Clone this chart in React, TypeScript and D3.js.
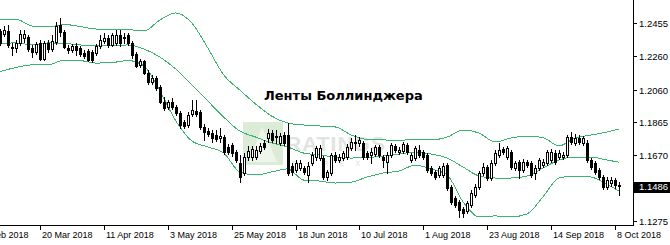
import React, { useEffect, useRef } from 'react';
import * as d3 from 'd3';

const W = 670;
const H = 245;
const PLOT_RIGHT = 633;
const PLOT_BOTTOM = 225;

const title = 'Ленты Боллинджера';

const dateLabels = ['26 Feb 2018', '20 Mar 2018', '11 Apr 2018', '3 May 2018', '25 May 2018', '18 Jun 2018', '10 Jul 2018', '1 Aug 2018', '23 Aug 2018', '14 Sep 2018', '8 Oct 2018'];
const dateTickIndex = [-6, 10, 26, 42, 58, 74, 90, 106, 122, 138, 154];

const priceTicks = [1.2455, 1.226, 1.206, 1.1865, 1.167, 1.1475, 1.1275];
const priceTickLabels = ['1.2455', '1.2260', '1.2060', '1.1865', '1.1670', '', '1.1275'];
const lastPrice = 1.1486;
const lastPriceLabel = '1.1486';

// [open, high, low, close] per daily bar
const ohlc: [number, number, number, number][] = [
  [1.2409, 1.2421, 1.2326, 1.2338], [1.2391, 1.2439, 1.2379, 1.2415], [1.2409, 1.2445, 1.2314, 1.2326], [1.2308, 1.2338, 1.2266, 1.2314], [1.2308, 1.2356, 1.2284, 1.2338],
  [1.2338, 1.2415, 1.2326, 1.2391], [1.2367, 1.2415, 1.2344, 1.2391], [1.2373, 1.2385, 1.229, 1.2302], [1.2308, 1.2326, 1.2254, 1.2284], [1.2284, 1.2344, 1.2272, 1.2332],
  [1.2338, 1.2356, 1.2236, 1.2242], [1.2242, 1.235, 1.2236, 1.2338], [1.2338, 1.2356, 1.2284, 1.2302], [1.2302, 1.2385, 1.229, 1.235], [1.2344, 1.2463, 1.2332, 1.2439],
  [1.2445, 1.2487, 1.2379, 1.2403], [1.2403, 1.2415, 1.2308, 1.2314], [1.2308, 1.2326, 1.2278, 1.2296], [1.2296, 1.2332, 1.2284, 1.232], [1.232, 1.2338, 1.2266, 1.2296],
  [1.2308, 1.232, 1.226, 1.2272], [1.2278, 1.2296, 1.2248, 1.226], [1.229, 1.2302, 1.223, 1.2236], [1.2284, 1.2296, 1.2224, 1.2236], [1.2278, 1.2332, 1.2266, 1.232],
  [1.232, 1.2385, 1.2308, 1.2356], [1.235, 1.2397, 1.2338, 1.2367], [1.2367, 1.2385, 1.2314, 1.2326], [1.2326, 1.2397, 1.232, 1.2385], [1.2338, 1.2415, 1.2326, 1.2385],
  [1.2385, 1.2415, 1.232, 1.2338], [1.2373, 1.2397, 1.2338, 1.2367], [1.2385, 1.2397, 1.2326, 1.2338], [1.2338, 1.235, 1.2248, 1.2266], [1.2272, 1.2284, 1.2194, 1.22],
  [1.2206, 1.2242, 1.2194, 1.223], [1.223, 1.2236, 1.2153, 1.2159], [1.2159, 1.2177, 1.2093, 1.2105], [1.2105, 1.2147, 1.2093, 1.2129], [1.2129, 1.2141, 1.2058, 1.2069],
  [1.2075, 1.2087, 1.198, 1.1986], [1.1986, 1.2016, 1.1938, 1.195], [1.1956, 1.1998, 1.1944, 1.1986], [1.1986, 1.201, 1.1944, 1.1956], [1.1956, 1.1968, 1.1908, 1.192],
  [1.192, 1.1932, 1.1831, 1.1849], [1.1867, 1.1879, 1.1831, 1.1843], [1.1849, 1.1926, 1.1837, 1.1908], [1.1914, 1.1998, 1.1902, 1.1938], [1.1932, 1.1998, 1.1902, 1.1914],
  [1.1926, 1.1938, 1.1825, 1.1837], [1.1837, 1.1855, 1.176, 1.1807], [1.1813, 1.1831, 1.1783, 1.1795], [1.1801, 1.1819, 1.1748, 1.1771], [1.1789, 1.1819, 1.1754, 1.1765],
  [1.1771, 1.1831, 1.1748, 1.1783], [1.1777, 1.1789, 1.1676, 1.1688], [1.1718, 1.1736, 1.1676, 1.1688], [1.173, 1.1742, 1.1664, 1.1682], [1.1688, 1.17, 1.1628, 1.164],
  [1.1622, 1.167, 1.1509, 1.1539], [1.1563, 1.1682, 1.1551, 1.1658], [1.1658, 1.1724, 1.164, 1.1694], [1.1658, 1.1724, 1.164, 1.1706], [1.1658, 1.1724, 1.1646, 1.17],
  [1.1694, 1.1742, 1.1682, 1.1724], [1.1742, 1.176, 1.1706, 1.1718], [1.1771, 1.1825, 1.1748, 1.1801], [1.1801, 1.1819, 1.1748, 1.176], [1.1783, 1.1819, 1.1742, 1.1777],
  [1.1742, 1.1801, 1.173, 1.1783], [1.1789, 1.1807, 1.173, 1.1742], [1.1789, 1.1861, 1.1551, 1.1563], [1.1604, 1.1622, 1.1551, 1.1569], [1.1581, 1.164, 1.1569, 1.1622],
  [1.1592, 1.164, 1.1581, 1.1622], [1.1592, 1.1604, 1.1557, 1.1569], [1.1551, 1.1628, 1.1509, 1.1604], [1.1622, 1.1688, 1.161, 1.167], [1.1658, 1.1724, 1.164, 1.1712],
  [1.1652, 1.173, 1.164, 1.1712], [1.1652, 1.1664, 1.1527, 1.1539], [1.1539, 1.1581, 1.1521, 1.1569], [1.1563, 1.1682, 1.1551, 1.167], [1.167, 1.1688, 1.1628, 1.164],
  [1.164, 1.1676, 1.1628, 1.1658], [1.1652, 1.1694, 1.164, 1.1682], [1.1658, 1.1736, 1.1646, 1.1718], [1.1712, 1.1771, 1.17, 1.1748], [1.1748, 1.1789, 1.17, 1.1742],
  [1.1742, 1.1777, 1.1724, 1.176], [1.1742, 1.1754, 1.1646, 1.1658], [1.1682, 1.1694, 1.1646, 1.1658], [1.167, 1.1712, 1.1622, 1.1688], [1.1676, 1.173, 1.1664, 1.1718],
  [1.1718, 1.173, 1.1658, 1.167], [1.1658, 1.167, 1.1598, 1.164], [1.1628, 1.1688, 1.1563, 1.167], [1.167, 1.1742, 1.1658, 1.173], [1.1724, 1.1736, 1.1688, 1.17],
  [1.1688, 1.1718, 1.1676, 1.17], [1.1694, 1.1748, 1.1682, 1.1736], [1.173, 1.1742, 1.1676, 1.1688], [1.164, 1.1682, 1.1628, 1.167], [1.1652, 1.1724, 1.164, 1.1712],
  [1.17, 1.173, 1.1658, 1.167], [1.1688, 1.17, 1.1646, 1.1658], [1.167, 1.1682, 1.1569, 1.1581], [1.1592, 1.1604, 1.1551, 1.1563], [1.1569, 1.1581, 1.1527, 1.1539],
  [1.1551, 1.1604, 1.1539, 1.1592], [1.1551, 1.1622, 1.1539, 1.1604], [1.161, 1.1622, 1.1462, 1.1473], [1.1479, 1.1491, 1.1378, 1.139], [1.1414, 1.1426, 1.136, 1.1372],
  [1.139, 1.1402, 1.13, 1.1342], [1.1348, 1.136, 1.13, 1.1324], [1.1336, 1.1396, 1.1324, 1.1384], [1.1372, 1.1462, 1.136, 1.1444], [1.1432, 1.1497, 1.142, 1.1479],
  [1.1479, 1.1575, 1.1467, 1.1563], [1.1563, 1.1622, 1.1551, 1.1598], [1.1598, 1.161, 1.1521, 1.1533], [1.1533, 1.164, 1.1521, 1.1622], [1.1622, 1.17, 1.161, 1.1682],
  [1.167, 1.1742, 1.1658, 1.17], [1.1706, 1.1718, 1.1676, 1.1688], [1.1658, 1.1724, 1.1646, 1.1712], [1.1688, 1.17, 1.1586, 1.1598], [1.1592, 1.1634, 1.1581, 1.1622],
  [1.1628, 1.164, 1.1533, 1.1581], [1.1581, 1.1646, 1.1569, 1.1628], [1.1628, 1.164, 1.1598, 1.161], [1.1622, 1.1634, 1.1539, 1.1551], [1.1563, 1.161, 1.1527, 1.1592],
  [1.1592, 1.1652, 1.1581, 1.164], [1.161, 1.1646, 1.1598, 1.1628], [1.1622, 1.17, 1.161, 1.1688], [1.164, 1.1706, 1.1628, 1.1688], [1.1682, 1.17, 1.1616, 1.1628],
  [1.1658, 1.17, 1.1646, 1.1682], [1.1658, 1.1688, 1.1646, 1.167], [1.167, 1.1789, 1.1658, 1.1777], [1.1777, 1.1807, 1.1736, 1.1748], [1.1742, 1.1795, 1.173, 1.1771],
  [1.1771, 1.1789, 1.1736, 1.1748], [1.1742, 1.1783, 1.173, 1.1771], [1.1742, 1.176, 1.1628, 1.164], [1.164, 1.1652, 1.1586, 1.1598], [1.1622, 1.1634, 1.1557, 1.1569],
  [1.1581, 1.1592, 1.1527, 1.1539], [1.1539, 1.1551, 1.1467, 1.1479], [1.1479, 1.1539, 1.1467, 1.1521], [1.1503, 1.1539, 1.1485, 1.1521], [1.1521, 1.1533, 1.1473, 1.1491],
  [1.1491, 1.1509, 1.1432, 1.1486],
];

// Bollinger band values read at these bar indices
const bandIndex = [0, 4, 8, 12, 16, 20, 24, 28, 32, 36, 40, 44, 48, 52, 56, 60, 64, 68, 72, 76, 80, 84, 88, 92, 96, 100, 104, 108, 112, 116, 120, 124, 128, 132, 136, 140, 144, 148, 152, 155];
const upperBand = [1.2478, 1.2478, 1.2439, 1.2433, 1.2448, 1.2436, 1.2421, 1.2421, 1.2418, 1.2409, 1.2475, 1.2517, 1.2457, 1.2308, 1.2147, 1.2058, 1.1974, 1.1902, 1.1861, 1.1849, 1.1843, 1.1837, 1.1789, 1.1763, 1.176, 1.1757, 1.1765, 1.176, 1.1777, 1.1819, 1.1801, 1.1748, 1.1771, 1.1783, 1.1774, 1.1724, 1.1771, 1.1789, 1.1807, 1.1825];
const middleBand = [1.2335, 1.2338, 1.2326, 1.2338, 1.2335, 1.2326, 1.232, 1.232, 1.2326, 1.2302, 1.2254, 1.2182, 1.2087, 1.1992, 1.1896, 1.1813, 1.1777, 1.1742, 1.1718, 1.1682, 1.167, 1.1658, 1.1652, 1.1655, 1.1664, 1.1676, 1.1688, 1.1676, 1.1652, 1.1598, 1.1545, 1.1533, 1.1533, 1.1545, 1.1592, 1.164, 1.1658, 1.1658, 1.164, 1.1628];
const lowerBand = [1.2168, 1.2192, 1.2207, 1.2207, 1.2236, 1.2233, 1.2218, 1.2221, 1.2233, 1.2201, 1.2052, 1.1873, 1.1754, 1.1718, 1.1682, 1.1569, 1.1551, 1.1569, 1.1587, 1.1521, 1.1515, 1.1503, 1.1509, 1.1539, 1.1563, 1.1575, 1.161, 1.1587, 1.1551, 1.139, 1.1301, 1.1307, 1.1301, 1.1319, 1.142, 1.1533, 1.1545, 1.1539, 1.1497, 1.1456];

const BAND_COLOR = '#3cb371';
const AXIS_FONT = "'Liberation Sans', Arial, sans-serif";

export default function App() {
  const ref = useRef<SVGSVGElement>(null);

  useEffect(() => {
    const svg = d3.select(ref.current);
    svg.selectAll('*').remove();

    const x = d3.scaleLinear().domain([0, ohlc.length - 1]).range([0.3, 0.3 + 3.99 * (ohlc.length - 1)]);
    const y = d3.scaleLinear().domain([1.1275, 1.2455]).range([221.3, 23.3]);

    svg.append('rect').attr('width', W).attr('height', H).attr('fill', '#ffffff');

    const defs = svg.append('defs');
    defs.append('clipPath').attr('id', 'plotClip')
      .append('rect').attr('x', 0).attr('y', 0).attr('width', PLOT_RIGHT).attr('height', PLOT_BOTTOM);

    // watermark
    const wm = svg.append('g');
    wm.append('rect').attr('x', 243).attr('y', 122).attr('width', 40).attr('height', 43).attr('fill', '#dcebd6');
    wm.append('path').attr('d', 'M249,162 L262,127 L277,162 Z').attr('fill', '#eef5eb');
    wm.append('text').attr('x', 286).attr('y', 151).attr('font-family', AXIS_FONT).attr('font-size', 21)
      .attr('font-weight', 'bold').attr('fill', '#e0e4e0').attr('letter-spacing', 1).text('RATINGS');
    wm.append('text').attr('x', 292).attr('y', 166).attr('font-family', AXIS_FONT).attr('font-size', 7)
      .attr('fill', '#dde1dd').attr('letter-spacing', 11).text('FOREX');

    const plot = svg.append('g').attr('clip-path', 'url(#plotClip)');

    // Bollinger bands
    const line = d3.line<number>()
      .x((_, k) => x(bandIndex[k]))
      .y((v) => y(v))
      .curve(d3.curveMonotoneX);
    [upperBand, middleBand, lowerBand].forEach((band) => {
      plot.append('path').attr('d', line(band) as string).attr('fill', 'none')
        .attr('stroke', BAND_COLOR).attr('stroke-width', 1).attr('shape-rendering', 'crispEdges');
    });

    // candles
    const cg = plot.append('g').attr('shape-rendering', 'crispEdges');
    ohlc.forEach(([o, h, l, c], i) => {
      const cx = Math.round(x(i));
      const yh = Math.round(y(h));
      const yl = Math.round(y(l));
      const yo = Math.round(y(o));
      const yc = Math.round(y(c));
      cg.append('line').attr('x1', cx + 0.5).attr('x2', cx + 0.5).attr('y1', yh).attr('y2', yl + 1)
        .attr('stroke', '#000').attr('stroke-width', 1);
      if (c >= o) {
        const top = yc;
        const hgt = Math.max(0, yo - yc);
        cg.append('rect').attr('x', cx - 0.5).attr('y', top + 0.5).attr('width', 2).attr('height', Math.max(hgt, 0.01))
          .attr('fill', '#fff').attr('stroke', '#000').attr('stroke-width', 1);
      } else {
        const top = yo;
        const hgt = Math.max(1, yc - yo + 1);
        cg.append('rect').attr('x', cx - 1).attr('y', top).attr('width', 3).attr('height', hgt).attr('fill', '#000');
      }
    });

    // title
    svg.append('text').attr('x', 264).attr('y', 100).attr('font-family', "'DejaVu Sans', Verdana, sans-serif")
      .attr('font-size', 13).attr('font-weight', 'bold').attr('fill', '#000').text(title);

    // axes
    const ax = svg.append('g').attr('shape-rendering', 'crispEdges');
    ax.append('line').attr('x1', PLOT_RIGHT + 0.5).attr('x2', PLOT_RIGHT + 0.5).attr('y1', 0).attr('y2', PLOT_BOTTOM + 1)
      .attr('stroke', '#000');
    ax.append('line').attr('x1', 0).attr('x2', PLOT_RIGHT + 1).attr('y1', PLOT_BOTTOM + 0.5).attr('y2', PLOT_BOTTOM + 0.5)
      .attr('stroke', '#000');

    priceTicks.forEach((v, k) => {
      const yy = Math.round(y(v)) + 0.5;
      ax.append('line').attr('x1', PLOT_RIGHT).attr('x2', PLOT_RIGHT + 4).attr('y1', yy).attr('y2', yy).attr('stroke', '#000');
      if (priceTickLabels[k]) {
        svg.append('text').attr('x', 639).attr('y', yy + 3.5).attr('font-family', AXIS_FONT).attr('font-size', 9.5)
          .attr('fill', '#000').text(priceTickLabels[k]);
      }
    });

    const ly = y(lastPrice);
    svg.append('rect').attr('x', PLOT_RIGHT).attr('y', Math.round(ly) - 4.5).attr('width', W - PLOT_RIGHT).attr('height', 11)
      .attr('fill', '#000').attr('shape-rendering', 'crispEdges');
    svg.append('text').attr('x', 639).attr('y', Math.round(ly) + 4).attr('font-family', AXIS_FONT).attr('font-size', 9.5)
      .attr('fill', '#fff').text(lastPriceLabel);

    dateTickIndex.forEach((idx, k) => {
      const xx = Math.round(x(idx)) + 0.5;
      ax.append('line').attr('x1', xx).attr('x2', xx).attr('y1', PLOT_BOTTOM).attr('y2', PLOT_BOTTOM + 5).attr('stroke', '#000');
      svg.append('text').attr('x', xx + 1.5).attr('y', 237.5).attr('font-family', AXIS_FONT).attr('font-size', 9)
        .attr('fill', '#000').text(dateLabels[k]);
    });
  }, []);

  return (
    <div style={{ position: 'absolute', left: 0, top: 0, width: W, height: H }}>
      <svg ref={ref} width={W} height={H} style={{ display: 'block' }} />
    </div>
  );
}
